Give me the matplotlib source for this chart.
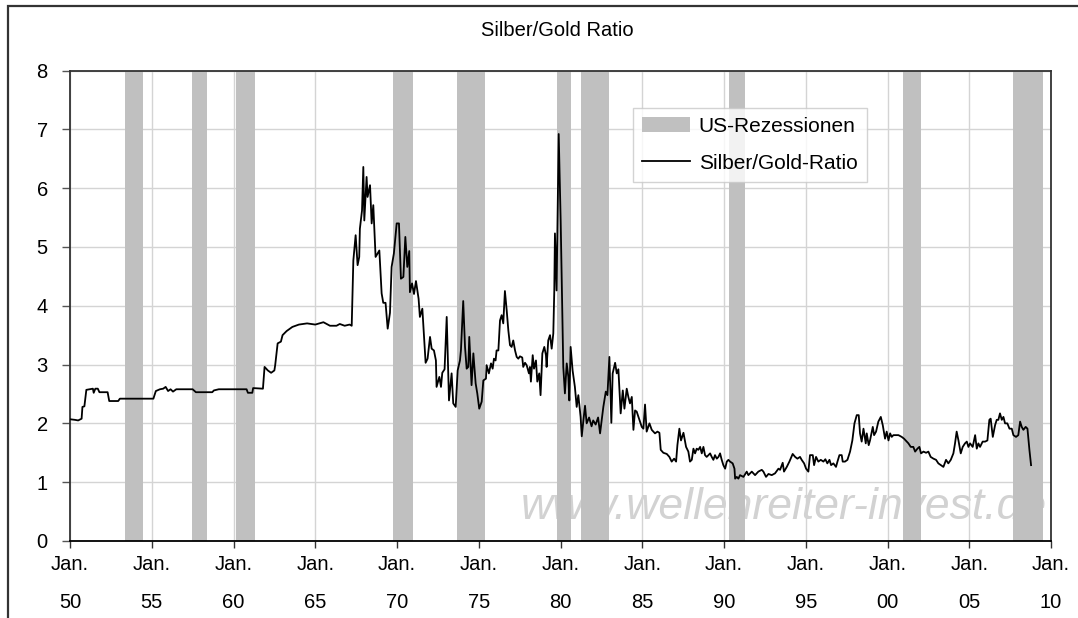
import numpy as np
import matplotlib.pyplot as plt
from matplotlib.patches import Rectangle, Patch
from matplotlib.lines import Line2D

plt.rcParams['font.family'] = ['Liberation Sans', 'DejaVu Sans']

# Silber/Gold-Ratio, Jahr als Dezimalzahl
jahre = [1950.0, 1950.3, 1950.5, 1950.71, 1950.76, 1950.88, 1951.0, 1951.4, 1951.45, 1951.55,
         1951.7, 1951.8, 1952.3, 1952.4, 1952.95, 1953.05, 1955.1, 1955.25, 1955.5, 1955.7,
         1955.85, 1956.0, 1956.15, 1956.3, 1956.5, 1957.5, 1957.7, 1958.7, 1958.8, 1959.1,
         1960.8, 1960.88, 1961.15, 1961.2, 1961.8, 1961.9, 1962.1, 1962.3, 1962.5, 1962.55,
         1962.7, 1962.9, 1963.0, 1963.25, 1963.6, 1964.0, 1964.5, 1965.0, 1965.5, 1965.9,
         1966.3, 1966.5, 1966.8, 1967.1, 1967.23,
         1967.33, 1967.47, 1967.59, 1967.69, 1967.73, 1967.86, 1967.94, 1968.0, 1968.14, 1968.2,
         1968.35, 1968.45, 1968.55, 1968.69, 1968.92, 1969.06, 1969.16, 1969.3, 1969.43, 1969.57,
         1969.67, 1969.81, 1969.98, 1970.12, 1970.24, 1970.39, 1970.51, 1970.63, 1970.75, 1970.79,
         1970.92, 1971.04, 1971.16, 1971.32, 1971.4, 1971.55, 1971.75, 1971.87, 1972.02, 1972.12,
         1972.26, 1972.38, 1972.42, 1972.59, 1972.69, 1972.77, 1972.91, 1973.04, 1973.18, 1973.34,
         1973.44, 1973.59, 1973.71, 1973.85, 1973.91, 1974.05, 1974.16, 1974.26, 1974.36, 1974.42,
         1974.56, 1974.67, 1974.81, 1974.91, 1975.03, 1975.18, 1975.28, 1975.44, 1975.48, 1975.62,
         1975.75, 1975.85, 1975.93, 1976.03, 1976.09, 1976.2, 1976.3, 1976.4, 1976.5, 1976.6,
         1976.71, 1976.81, 1976.91, 1977.01, 1977.11, 1977.22, 1977.32, 1977.42, 1977.52, 1977.66,
         1977.72, 1977.83, 1977.93, 1978.07, 1978.13, 1978.19, 1978.3, 1978.38, 1978.5, 1978.58,
         1978.7, 1978.78, 1978.89, 1979.01, 1979.11, 1979.15, 1979.25, 1979.36, 1979.46, 1979.56,
         1979.62, 1979.66, 1979.76, 1979.89, 1980.01, 1980.11, 1980.17, 1980.27, 1980.38, 1980.48,
         1980.54, 1980.62, 1980.74, 1980.88, 1980.99, 1981.09, 1981.23, 1981.3, 1981.4, 1981.5,
         1981.6, 1981.75, 1981.9, 1982.0, 1982.15, 1982.3,
         1982.42, 1982.62, 1982.77, 1982.87, 1982.99, 1983.11, 1983.19, 1983.34, 1983.44, 1983.54,
         1983.68, 1983.81, 1983.91, 1984.05, 1984.15, 1984.25, 1984.36, 1984.46, 1984.56, 1984.66,
         1984.83, 1984.97, 1985.07, 1985.17, 1985.27, 1985.44, 1985.58, 1985.68, 1985.78, 1985.93,
         1986.05, 1986.13, 1986.29, 1986.5, 1986.66, 1986.8, 1986.95, 1987.07, 1987.15, 1987.27,
         1987.37, 1987.52, 1987.68, 1987.82, 1987.92, 1988.03, 1988.13, 1988.23, 1988.33, 1988.43,
         1988.54, 1988.64, 1988.74, 1988.84, 1988.94, 1989.05, 1989.15, 1989.25, 1989.35, 1989.45,
         1989.56, 1989.66, 1989.76, 1989.86, 1989.96, 1990.07, 1990.17, 1990.27, 1990.37, 1990.53,
         1990.64, 1990.68, 1990.78, 1990.88, 1990.98, 1991.19, 1991.39, 1991.49, 1991.7, 1991.9,
         1992.1, 1992.31, 1992.41, 1992.57, 1992.72, 1992.92, 1993.12, 1993.33, 1993.43, 1993.59,
         1993.67, 1993.84, 1994.0, 1994.2, 1994.35, 1994.49, 1994.65, 1994.75, 1994.9, 1995.02,
         1995.16, 1995.26, 1995.43, 1995.51, 1995.63, 1995.77, 1995.92, 1996.08, 1996.2, 1996.32,
         1996.45, 1996.55, 1996.69, 1996.85, 1996.94, 1997.06, 1997.2, 1997.26, 1997.4, 1997.55,
         1997.71, 1997.85, 1997.98, 1998.12, 1998.24, 1998.32, 1998.42, 1998.53, 1998.67, 1998.73,
         1998.85, 1998.93, 1999.1, 1999.18, 1999.3, 1999.44, 1999.59, 1999.71, 1999.85, 1999.95,
         2000.06, 2000.16, 2000.26, 2000.36, 2000.52, 2000.67, 2000.87, 2001.01, 2001.18, 2001.28,
         2001.42, 2001.58, 2001.69, 2001.83, 2001.95, 2002.05, 2002.2, 2002.36, 2002.5, 2002.64,
         2002.81, 2002.97, 2003.11, 2003.26, 2003.42, 2003.58, 2003.72, 2003.87, 2004.03, 2004.13,
         2004.23, 2004.34, 2004.48, 2004.6, 2004.74, 2004.85, 2004.95, 2005.05, 2005.21, 2005.36,
         2005.46, 2005.56, 2005.66, 2005.82, 2005.97, 2006.11, 2006.23, 2006.31, 2006.44, 2006.58,
         2006.68, 2006.78, 2006.88, 2006.99, 2007.09, 2007.19, 2007.33, 2007.46, 2007.6, 2007.7,
         2007.86, 2008.0, 2008.11, 2008.21, 2008.31, 2008.45, 2008.56, 2008.68, 2008.78]

ratio = [2.07, 2.06, 2.05, 2.08, 2.28, 2.29, 2.57, 2.59, 2.52, 2.59,
         2.59, 2.53, 2.53, 2.38, 2.38, 2.42, 2.42, 2.55, 2.58, 2.59,
         2.62, 2.55, 2.58, 2.54, 2.58, 2.58, 2.53, 2.53, 2.56, 2.58,
         2.58, 2.52, 2.52, 2.60, 2.59, 2.96, 2.90, 2.86, 2.90, 2.99,
         3.36, 3.39, 3.50, 3.57, 3.64, 3.68, 3.70, 3.68, 3.72, 3.66,
         3.66, 3.69, 3.66, 3.68, 3.66,
         4.77, 5.20, 4.69, 4.83, 5.31, 5.62, 6.36, 5.45, 6.19, 5.85,
         6.05, 5.40, 5.71, 4.83, 4.94, 4.21, 4.05, 4.05, 3.61, 3.88,
         4.66, 4.89, 5.40, 5.40, 4.46, 4.49, 5.17, 4.66, 4.93, 4.23,
         4.38, 4.20, 4.42, 4.12, 3.81, 3.95, 3.03, 3.10, 3.47, 3.27,
         3.24, 3.07, 2.62, 2.79, 2.62, 2.86, 2.92, 3.81, 2.39, 2.85,
         2.34, 2.28, 2.90, 3.07, 3.24, 4.08, 3.30, 2.93, 2.96, 3.47,
         2.65, 3.19, 2.68, 2.51, 2.25, 2.37, 2.73, 2.76, 2.99, 2.85,
         3.02, 2.93, 3.10, 3.07, 3.24, 3.24, 3.75, 3.84, 3.70, 4.25,
         3.92, 3.58, 3.33, 3.30, 3.41, 3.24, 3.13, 3.10, 3.14, 3.12,
         2.96, 3.03, 2.99, 2.85, 2.96, 2.71, 3.16, 2.93, 3.07, 2.71,
         2.85, 2.48, 3.19, 3.30, 3.16, 2.96, 3.41, 3.50, 3.27, 3.53,
         4.26, 5.23, 4.26, 6.92, 5.45, 3.92, 2.96, 2.51, 3.02, 2.79,
         2.39, 3.30, 2.90, 2.62, 2.28, 2.48, 2.11, 1.78, 2.05, 2.30,
         2.00, 2.10, 1.95, 2.05, 1.98, 2.10,
         1.83, 2.28, 2.54, 2.48, 3.13, 2.01, 2.85, 3.03, 2.85, 2.92,
         2.17, 2.56, 2.25, 2.59, 2.45, 2.34, 2.45, 1.89, 2.22, 2.20,
         2.06, 1.94, 1.91, 2.32, 1.86, 2.00, 1.89, 1.86, 1.83, 1.86,
         1.84, 1.55, 1.50, 1.48, 1.43, 1.35, 1.40, 1.35, 1.63, 1.91,
         1.71, 1.84, 1.60, 1.52, 1.35, 1.38, 1.57, 1.49, 1.57, 1.55,
         1.60, 1.49, 1.60, 1.46, 1.43, 1.46, 1.49, 1.43, 1.38, 1.46,
         1.40, 1.43, 1.49, 1.38, 1.29, 1.23, 1.35, 1.38, 1.35, 1.32,
         1.23, 1.06, 1.09, 1.06, 1.12, 1.09, 1.18, 1.12, 1.18, 1.12,
         1.18, 1.21, 1.18, 1.09, 1.14, 1.12, 1.15, 1.23, 1.21, 1.33,
         1.18, 1.26, 1.35, 1.48, 1.43, 1.40, 1.43, 1.38, 1.32, 1.23,
         1.18, 1.46, 1.46, 1.29, 1.43, 1.35, 1.38, 1.35, 1.39, 1.32,
         1.38, 1.29, 1.32, 1.26, 1.35, 1.46, 1.46, 1.35, 1.35, 1.38,
         1.52, 1.71, 2.00, 2.14, 2.14, 1.83, 1.69, 1.91, 1.66, 1.83,
         1.63, 1.71, 1.94, 1.80, 1.86, 2.03, 2.11, 1.97, 1.74, 1.86,
         1.71, 1.83, 1.77, 1.80, 1.80, 1.80, 1.77, 1.74, 1.69, 1.66,
         1.60, 1.60, 1.52, 1.57, 1.60, 1.49, 1.52, 1.50, 1.52, 1.43,
         1.40, 1.38, 1.32, 1.29, 1.26, 1.38, 1.32, 1.38, 1.49, 1.66,
         1.86, 1.71, 1.49, 1.60, 1.66, 1.69, 1.60, 1.66, 1.60, 1.80,
         1.57, 1.66, 1.60, 1.69, 1.69, 1.71, 2.06, 2.08, 1.77, 1.97,
         2.06, 2.06, 2.17, 2.06, 2.11, 2.00, 2.00, 1.91, 1.91, 1.80,
         1.77, 1.80, 2.03, 1.94, 1.89, 1.94, 1.91, 1.55, 1.29]

# US-Rezessionen (Beginn, Ende)
rez_start = [1953.36, 1957.46, 1960.15, 1969.76, 1973.67, 1979.79, 1981.25, 1990.31, 2000.95, 2007.68]
rez_ende = [1954.46, 1958.38, 1961.31, 1970.98, 1975.38, 1980.64, 1982.97, 1991.28, 2002.05, 2009.5]

tick_jahre = list(range(1950, 2011, 5))
tick_labels = ['Jan.\n' + str(j)[2:] for j in tick_jahre]

fig = plt.figure(figsize=(10.78, 6.18), dpi=100)
ax = fig.add_axes([70/1078, 77/618, 981/1078, 470.5/618])

# Rahmen um das Diagramm
fig.add_artist(Rectangle((8/1078, -0.1), 1.2, 1 - 6.5/618 + 0.1, transform=fig.transFigure,
                         fill=False, edgecolor='#333333', lw=1.6))

ax.set_xlim(1950, 2010)
ax.set_ylim(0, 8)

ax.text(1977.55, 0.38, 'www.wellenreiter-invest.de', fontsize=32, style='italic',
        color='#d2d2d2', zorder=1)

for s, e in zip(rez_start, rez_ende):
    ax.axvspan(s, e, color='#c0c0c0', lw=0, zorder=2)

ax.plot(jahre, ratio, color='black', lw=1.3, zorder=3)

ax.set_xticks(tick_jahre)
ax.set_xticklabels(tick_labels, linespacing=2.3)
ax.set_yticks(range(0, 9))
ax.grid(True, color='#d4d4d4', lw=1)
ax.set_axisbelow(True)
ax.tick_params(axis='x', length=5, width=1, pad=5, labelsize=14.5, color='#333333')
ax.tick_params(axis='y', length=6, width=1, pad=10, labelsize=14.5, color='#555555')
for sp in ax.spines.values():
    sp.set_color('#333333')
    sp.set_linewidth(1.3)
ax.spines['bottom'].set_color('black')

handles = [Patch(facecolor='#c0c0c0', edgecolor='none', label='US-Rezessionen'),
           Line2D([], [], color='black', lw=1.3, label='Silber/Gold-Ratio')]
leg = ax.legend(handles=handles, loc='upper left', bbox_to_anchor=(0.574, 0.921),
                fontsize=15, frameon=True, fancybox=False, handlelength=2.3,
                handletextpad=0.4, borderpad=0.45, labelspacing=0.85, borderaxespad=0)
leg.get_frame().set_edgecolor('#c8c8c8')
leg.get_frame().set_linewidth(1)
leg.set_zorder(5)

fig.text(557/1078, 1 - 30/618, 'Silber/Gold Ratio', ha='center', va='center', fontsize=14.5)

fig.savefig('out.png', dpi=100)
